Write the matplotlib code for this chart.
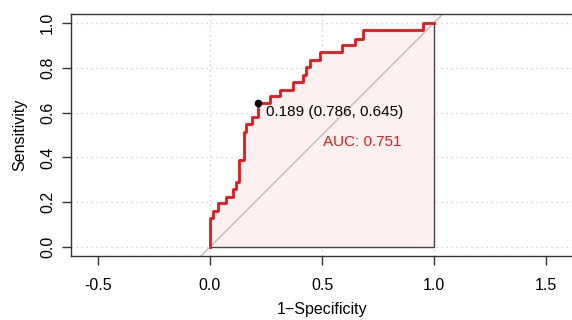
import matplotlib
matplotlib.use("Agg")
from matplotlib import pyplot as plt

plt.rcParams['font.family'] = ['Liberation Sans', 'DejaVu Sans']

# ROC curve corners (1-specificity, sensitivity)
fpr = [0.0, 0.0, 0.015, 0.015, 0.036, 0.036, 0.071, 0.071, 0.104, 0.104,
       0.116, 0.116, 0.13, 0.13, 0.152, 0.152, 0.161, 0.161, 0.186, 0.186,
       0.214, 0.214, 0.268, 0.268, 0.3125, 0.3125, 0.372, 0.372, 0.417, 0.417,
       0.429, 0.429, 0.446, 0.446, 0.491, 0.491, 0.588, 0.588, 0.647, 0.647,
       0.685, 0.685, 0.952, 0.952, 1.0]
tpr = [0.0, 0.13, 0.13, 0.16, 0.16, 0.195, 0.195, 0.225, 0.225, 0.26,
       0.26, 0.29, 0.29, 0.388, 0.388, 0.515, 0.515, 0.55, 0.55, 0.582,
       0.582, 0.645, 0.645, 0.675, 0.675, 0.70, 0.70, 0.738, 0.738, 0.768,
       0.768, 0.805, 0.805, 0.835, 0.835, 0.87, 0.87, 0.90, 0.90, 0.93,
       0.93, 0.97, 0.97, 1.0, 1.0]

best_thres = 0.189
best_spec = 0.786
best_sens = 0.645
auc = 0.751

xticks = [-0.5, 0.0, 0.5, 1.0, 1.5]
yticks = [0.0, 0.2, 0.4, 0.6, 0.8, 1.0]

fig = plt.figure(figsize=(5.72, 3.2), dpi=100)
ax = fig.add_axes([71 / 572, 64 / 320, 502 / 572, 242 / 320])
ax.set_xlim(-0.6205, 1.6205)
ax.set_ylim(-0.04, 1.04)

# grid (dotted)
for y in yticks:
    ax.axhline(y, color='#c8c8c8', lw=0.9, ls=(0, (1, 3)), zorder=0)
for x in [0.0, 0.5, 1.0]:
    ax.axvline(x, color='#c8c8c8', lw=0.9, ls=(0, (1, 3)), zorder=0)

# auc polygon
ax.fill(fpr + [1.0, 0.0], tpr + [0.0, 0.0], facecolor='#fdf0f0',
        edgecolor='#444444', lw=1, zorder=1)

# chance line
ax.axline((0, 0), (1, 1), color='#bbbbbb', lw=1, zorder=2)

ax.plot(fpr, tpr, color='#e41a1c', lw=2, zorder=3)
ax.plot([1 - best_spec], [best_sens], 'o', color='k', ms=4.5, zorder=4)
ax.text(0.25, 0.604, '%.3f (%.3f, %.3f)' % (best_thres, best_spec, best_sens),
        fontsize=11, ha='left', va='center', color='k')
ax.text(0.503, 0.47, 'AUC: %.3f' % auc, fontsize=11, ha='left',
        va='center', color='#e41a1c')

ax.set_xticks(xticks)
ax.set_xticklabels(['%.1f' % v for v in xticks])
ax.set_yticks(yticks)
ax.set_yticklabels(['%.1f' % v for v in yticks], rotation=90, va='center')
ax.tick_params(axis='x', length=6.5, width=1, color='#333333', labelsize=11.5, pad=9)
ax.tick_params(axis='y', length=6.5, width=1, color='#333333', labelsize=11.5, pad=5)
for s in ax.spines.values():
    s.set_color('#333333')
    s.set_linewidth(1)
ax.set_xlabel('1\u2212Specificity', fontsize=11.5, labelpad=7)
ax.set_ylabel('Sensitivity', fontsize=11.5, labelpad=9)

fig.savefig('out.png', dpi=100)
